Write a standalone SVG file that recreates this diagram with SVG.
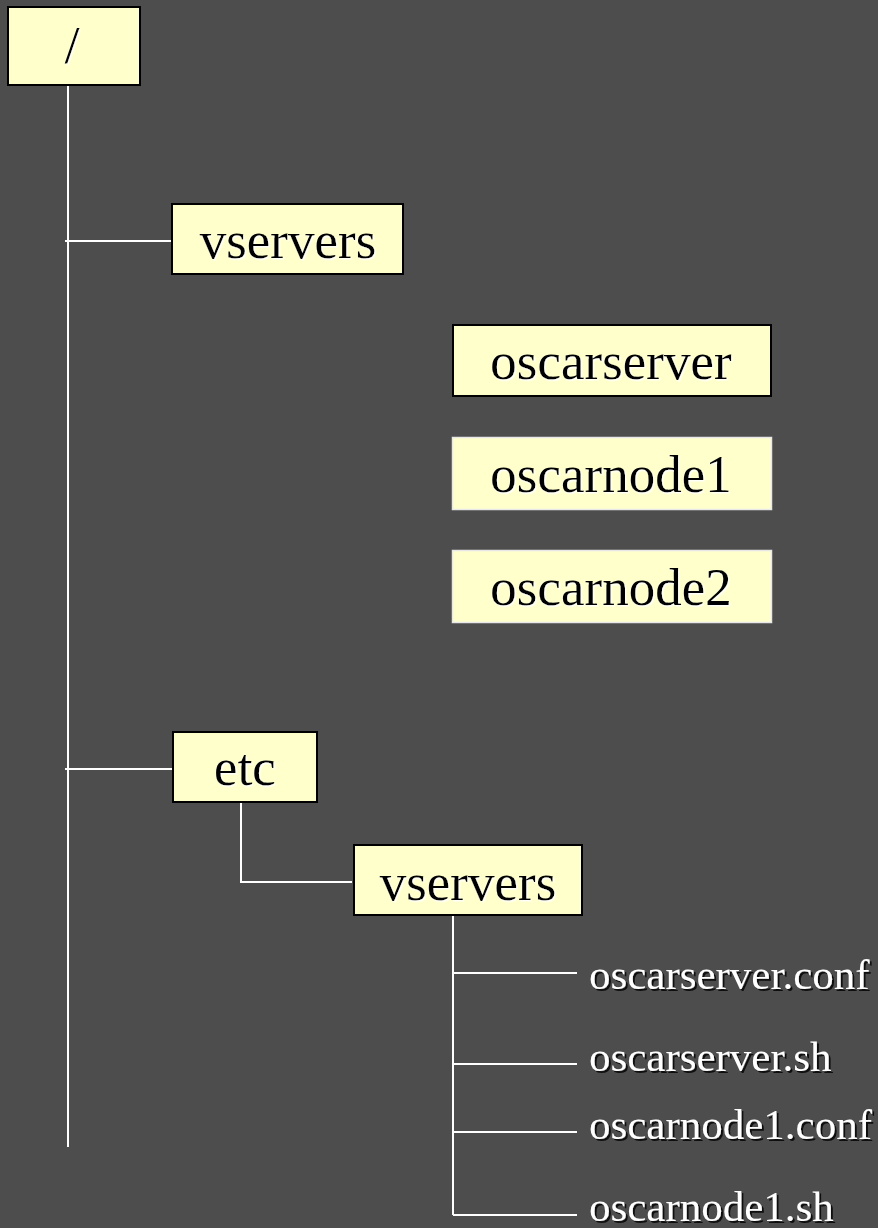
<svg xmlns="http://www.w3.org/2000/svg" width="878" height="1228" viewBox="0 0 878 1228">
<defs>
<style>
.box{fill:#ffffcc;stroke:#000;stroke-width:2}
.box2{fill:#ffffcc;stroke:#e8e8e8;stroke-width:1.5}
.bt{font-family:"Liberation Serif","Times New Roman",serif;font-size:53px;fill:#000;text-anchor:middle;filter:url(#ws)}
.ft{font-family:"Liberation Serif","Times New Roman",serif;font-size:43px;fill:#fff;filter:url(#ds)}
.ln{stroke:#fff;stroke-width:2;fill:none}
</style>
<filter id="ws" x="-5%" y="-20%" width="110%" height="140%"><feDropShadow dx="1.5" dy="1.5" stdDeviation="0" flood-color="#fff" flood-opacity="0.9"/></filter>
<filter id="ds" x="-5%" y="-20%" width="110%" height="140%"><feDropShadow dx="2" dy="2" stdDeviation="0" flood-color="#000" flood-opacity="0.8"/></filter>
</defs>
<rect width="878" height="1228" fill="#4d4d4d"/>
<g id="connectors">
<line class="ln" x1="68" y1="85" x2="68" y2="1147"/>
<line class="ln" x1="65" y1="241" x2="171" y2="241"/>
<line class="ln" x1="65" y1="769" x2="172" y2="769"/>
<polyline class="ln" points="241,803 241,882 352,882"/>
<line class="ln" x1="453" y1="916" x2="453" y2="1215"/>
<line class="ln" x1="453" y1="973" x2="577" y2="973"/>
<line class="ln" x1="453" y1="1064" x2="577" y2="1064"/>
<line class="ln" x1="453" y1="1132" x2="577" y2="1132"/>
<line class="ln" x1="453" y1="1215" x2="577" y2="1215"/>
</g>
<g id="root"><rect class="box" x="8" y="7" width="132" height="78"/><text class="bt" x="72" y="63">/</text></g>
<g id="vservers"><rect class="box" x="172" y="204" width="231" height="70"/><text class="bt" x="288" y="258">vservers</text></g>
<g id="oscarserver"><rect class="box" x="453" y="325" width="318" height="71"/><text class="bt" x="611" y="379">oscarserver</text></g>
<g id="oscarnode1"><rect class="box2" x="452.5" y="437.5" width="319" height="72"/><text class="bt" x="611" y="492">oscarnode1</text></g>
<g id="oscarnode2"><rect class="box2" x="452.5" y="550.5" width="319" height="72"/><text class="bt" x="611" y="605">oscarnode2</text></g>
<g id="etc"><rect class="box" x="173" y="732" width="144" height="70"/><text class="bt" x="245" y="785">etc</text></g>
<g id="etc-vservers"><rect class="box" x="354" y="845" width="228" height="70"/><text class="bt" x="468" y="900">vservers</text></g>
<g id="f1"><text class="ft" x="589" y="989">oscarserver.conf</text></g>
<g id="f2"><text class="ft" x="589" y="1071">oscarserver.sh</text></g>
<g id="f3"><text class="ft" x="589" y="1139">oscarnode1.conf</text></g>
<g id="f4"><text class="ft" x="589" y="1221">oscarnode1.sh</text></g>
</svg>
